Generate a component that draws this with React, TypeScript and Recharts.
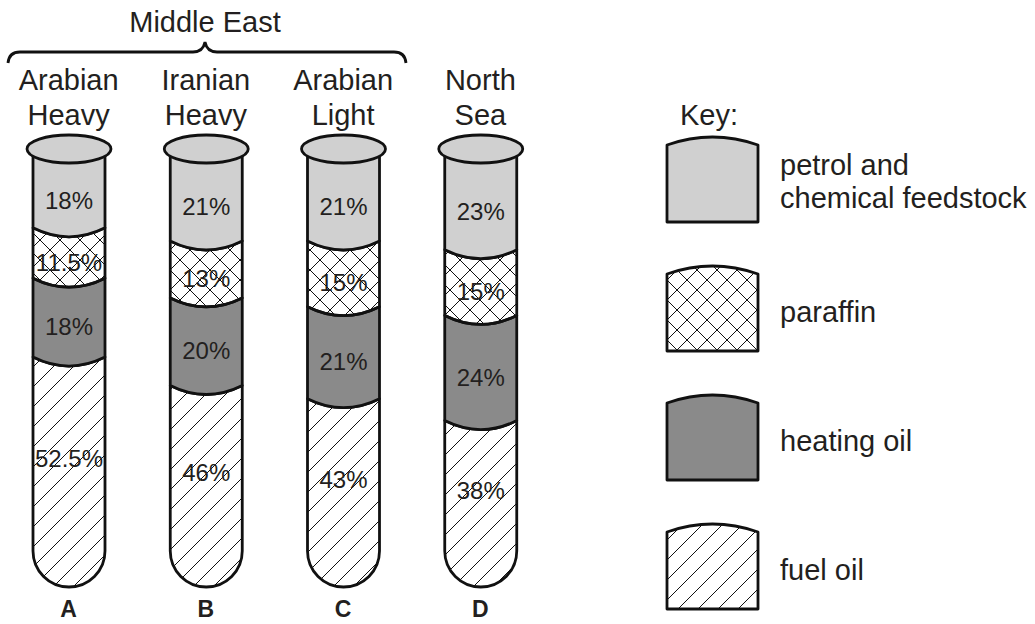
import React from 'react';
import { BarChart, Bar, XAxis, YAxis, LabelList, Legend, Customized } from 'recharts';

// ---- data ----
const categories = ['A', 'B', 'C', 'D'];
const crudeNames = [
  ['Arabian', 'Heavy'],
  ['Iranian', 'Heavy'],
  ['Arabian', 'Light'],
  ['North', 'Sea'],
];
const regionLabel = 'Middle East';
const petrol = [18, 21, 21, 23];
const paraffin = [11.5, 13, 15, 15];
const heating = [18, 20, 21, 24];
const fuel = [52.5, 46, 43, 38];

const seriesNames: Record<string, string[]> = {
  petrol: ['petrol and', 'chemical feedstock'],
  paraffin: ['paraffin'],
  heating: ['heating oil'],
  fuel: ['fuel oil'],
};

const data = categories.map((c, i) => ({
  cat: c,
  fuel: fuel[i],
  heating: heating[i],
  paraffin: paraffin[i],
  petrol: petrol[i],
}));

// ---- styles ----
const FONT = '"Liberation Sans", Arial, Helvetica, sans-serif';
const INK = '#231f20';
const SAG = 9;
const fills: Record<string, string> = {
  petrol: '#d0d0d0',
  paraffin: 'url(#crossHatch)',
  heating: '#8a8a8a',
  fuel: 'url(#diagHatch)',
};

function segPath(kind: string, x: number, y: number, w: number, h: number) {
  let d = '';
  if (kind === 'petrol') d += `M${x},${y} L${x + w},${y} `;
  else d += `M${x},${y} Q${x + w / 2},${y + 2 * SAG} ${x + w},${y} `;
  if (kind === 'fuel') {
    const r = w / 2;
    d += `L${x + w},${y + h - r} A${r},${r} 0 0 1 ${x},${y + h - r} Z`;
  } else {
    d += `L${x + w},${y + h} Q${x + w / 2},${y + h + 2 * SAG} ${x},${y + h} Z`;
  }
  return d;
}

const makeShape = (kind: string) => (props: any) => {
  const { x, y, width, height } = props;
  return (
    <g>
      <path d={segPath(kind, x, y, width, height)} fill={fills[kind]} stroke="#111" strokeWidth={2.8} strokeLinejoin="round" />
      {kind === 'petrol' && (
        <ellipse cx={x + width / 2} cy={y} rx={width / 2 + 6} ry={14} fill="#d0d0d0" stroke="#111" strokeWidth={2.8} />
      )}
    </g>
  );
};

const makeLabel = (kind: string) => (props: any) => {
  const { x, y, width, height, value } = props;
  let cy = y + height / 2 + SAG;
  if (kind === 'petrol') cy = (y + 14 + y + height + SAG) / 2;
  if (kind === 'fuel') cy = (y + SAG + y + height - width / 2) / 2;
  return (
    <text x={x + width / 2} y={cy} dy="0.36em" textAnchor="middle" fontFamily={FONT} fontSize={24} fill={INK}>
      {`${value}%`}
    </text>
  );
};

const BottomTick = (props: any) => {
  const { x, payload } = props;
  return (
    <text x={x} y={617} textAnchor="middle" fill={INK} fontSize={23} fontWeight={700} fontFamily={FONT}>
      {payload.value}
    </text>
  );
};

const TopTick = (props: any) => {
  const { x, payload } = props;
  const lines = crudeNames[payload.index] || [];
  return (
    <text textAnchor="middle" fill={INK} fontFamily={FONT} fontSize={29}>
      {lines.map((l, i) => (
        <tspan key={i} x={x} y={90 + i * 35}>{l}</tspan>
      ))}
    </text>
  );
};

const Brace = () => (
  <g>
    <path
      d="M8,63 Q9,52 20,52 L193,52 Q203,52 205,42 Q207,52 217,52 L394,52 Q405,52 406,63"
      fill="none"
      stroke="#111"
      strokeWidth={2.8}
    />
    <text x={205} y={32} textAnchor="middle" fontFamily={FONT} fontSize={29} fill={INK}>
      {regionLabel}
    </text>
  </g>
);

const KeyContent = (props: any) => {
  const payload = (props.payload || []).slice().reverse();
  const sx = 667;
  const sw = 91;
  const sh = 77;
  return (
    <svg width={1035} height={624} style={{ position: 'absolute', left: 0, top: 0 }}>
      <defs>
        <pattern id="keyCross" patternUnits="userSpaceOnUse" width={20} height={20} x={667} y={0}>
          <path d="M0,0 L20,20 M20,0 L0,20" stroke="#111" strokeWidth={1} />
        </pattern>
        <pattern id="keyDiag" patternUnits="userSpaceOnUse" width={20} height={20} x={667} y={0}>
          <path d="M-5,5 L5,-5 M0,20 L20,0 M15,25 L25,15" stroke="#111" strokeWidth={1} />
        </pattern>
      </defs>
      <text x={680} y={125} fontFamily={FONT} fontSize={29} fill={INK}>Key:</text>
      {payload.map((p: any, i: number) => {
        const kind = p.dataKey as string;
        const top = 145 + i * 129;
        const fill = kind === 'paraffin' ? 'url(#keyCross)' : kind === 'fuel' ? 'url(#keyDiag)' : fills[kind];
        const names = seriesNames[kind] || [String(p.value)];
        const cy = top + sh / 2;
        return (
          <g key={kind}>
            <path
              d={`M${sx},${top} Q${sx + sw / 2},${top - 16} ${sx + sw},${top} L${sx + sw},${top + sh} L${sx},${top + sh} Z`}
              fill={fill}
              stroke="#111"
              strokeWidth={2.8}
              strokeLinejoin="round"
            />
            <text fontFamily={FONT} fontSize={29} fill={INK}>
              {names.map((n, j) => (
                <tspan key={j} x={780} y={names.length === 1 ? cy + 9 : cy - 9 + j * 33}>{n}</tspan>
              ))}
            </text>
          </g>
        );
      })}
    </svg>
  );
};

export default function App() {
  return (
    <div style={{ position: 'absolute', left: 0, top: 0, width: 1035, height: 624, background: '#fff' }}>
      <BarChart width={1035} height={624} data={data} margin={{ top: 49, right: 486, bottom: 7, left: 0 }} barSize={72}>
        <defs>
          <pattern id="crossHatch" patternUnits="userSpaceOnUse" width={20} height={20}>
            <path d="M0,0 L20,20 M20,0 L0,20" stroke="#111" strokeWidth={1} />
          </pattern>
          <pattern id="diagHatch" patternUnits="userSpaceOnUse" width={20} height={20}>
            <path d="M-5,5 L5,-5 M0,20 L20,0 M15,25 L25,15" stroke="#111" strokeWidth={1} />
          </pattern>
        </defs>
        <XAxis dataKey="cat" axisLine={false} tickLine={false} height={30} tick={<BottomTick />} interval={0} />
        <XAxis xAxisId="top" dataKey="cat" orientation="top" axisLine={false} tickLine={false} height={100} tick={<TopTick />} interval={0} />
        <YAxis hide domain={[0, 100]} type="number" />
        <Bar dataKey="fuel" name="fuel oil" stackId="s" fill="#ffffff" shape={makeShape('fuel')} isAnimationActive={false}>
          <LabelList dataKey="fuel" content={makeLabel('fuel')} />
        </Bar>
        <Bar dataKey="heating" name="heating oil" stackId="s" fill="#8a8a8a" shape={makeShape('heating')} isAnimationActive={false}>
          <LabelList dataKey="heating" content={makeLabel('heating')} />
        </Bar>
        <Bar dataKey="paraffin" name="paraffin" stackId="s" fill="#ffffff" shape={makeShape('paraffin')} isAnimationActive={false}>
          <LabelList dataKey="paraffin" content={makeLabel('paraffin')} />
        </Bar>
        <Bar dataKey="petrol" name="petrol and chemical feedstock" stackId="s" fill="#d0d0d0" shape={makeShape('petrol')} isAnimationActive={false}>
          <LabelList dataKey="petrol" content={makeLabel('petrol')} />
        </Bar>
        <Customized component={Brace} />
        <Legend
          layout="horizontal"
          align="center"
          verticalAlign="middle"
          wrapperStyle={{ left: 0, top: 0, width: 1035, height: 624, pointerEvents: 'none' }}
          content={<KeyContent />}
        />
      </BarChart>
    </div>
  );
}
